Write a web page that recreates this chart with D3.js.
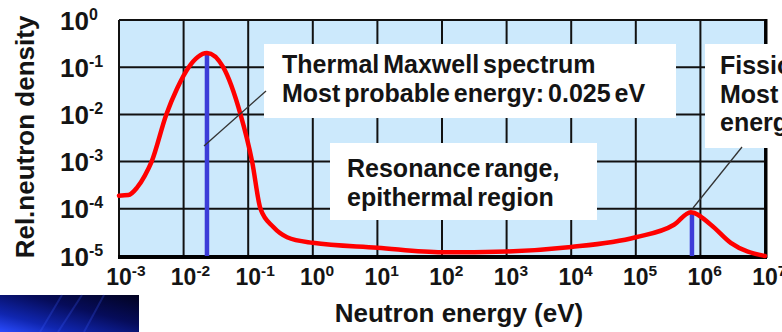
<!DOCTYPE html>
<html>
<head>
<meta charset="utf-8">
<script src="https://cdn.jsdelivr.net/npm/d3@7"></script>
<style>
  body { margin: 0; background: #fff; }
  svg { display: block; font-family: "Liberation Sans", Arial, sans-serif; font-weight: bold; }
</style>
</head>
<body>
<div id="graph"></div>
<script>
// spectrum (energy in eV, relative density)
var energy = [1e-3, 1.4e-3, 1.9e-3, 2.5e-3, 3.2e-3, 5.4e-3, 7.9e-3, 0.012, 0.0166, 0.023, 0.041, 0.076, 0.115, 0.155, 0.245, 0.4,
  1, 10, 100, 1e3, 1e4, 1e5, 3.9e5, 7.1e5, 1.45e6, 2.95e6, 1e7];
var density = [1.9e-4, 1.95e-4, 2.8e-4, 5e-4, 1e-3, 1e-2, 3.5e-2, 1e-1, 0.165, 0.2, 0.1, 1e-2, 1e-3, 1e-4, 4.1e-5, 2.5e-5,
  1.9e-5, 1.5e-5, 1.2e-5, 1.25e-5, 1.55e-5, 2.5e-5, 4.6e-5, 8.5e-5, 4.6e-5, 1.9e-5, 1e-5];

// most probable energies (blue markers)
var markerEnergy = [0.023, 7.4e5];
var markerTop = [0.19, 8.3e-5];

var xExponents = [-3, -2, -1, 0, 1, 2, 3, 4, 5, 6, 7];
var yExponents = [0, -1, -2, -3, -4, -5];

var notes = [
  { lines: ["Thermal Maxwell spectrum", "Most probable energy: 0.025 eV"] },
  { lines: ["Resonance range,", "epithermal region"] },
  { lines: ["Fission spectrum", "Most probable", "energy: 0.7 MeV"] }
];

var width = 782, height = 332;
var x = d3.scaleLog().domain([1e-3, 1e7]).range([119, 765]);
var y = d3.scaleLog().domain([1e-5, 1]).range([256, 20]);

var svg = d3.select("#graph").append("svg")
  .attr("width", width).attr("height", height);

// background image corner (bottom-left)
var defs = svg.append("defs");
var grad = defs.append("linearGradient").attr("id", "corner")
  .attr("x1", "0%").attr("y1", "100%").attr("x2", "100%").attr("y2", "0%");
grad.append("stop").attr("offset", "0%").attr("stop-color", "#2a4cff");
grad.append("stop").attr("offset", "25%").attr("stop-color", "#1026b0");
grad.append("stop").attr("offset", "60%").attr("stop-color", "#060c5a");
grad.append("stop").attr("offset", "100%").attr("stop-color", "#020320");
svg.append("rect").attr("x", 0).attr("y", 295).attr("width", 139).attr("height", 37)
  .attr("fill", "url(#corner)");
[[40, 332, 62, 295], [58, 332, 82, 295], [84, 332, 104, 295]].forEach(s => {
  svg.append("line").attr("x1", s[0]).attr("y1", s[1]).attr("x2", s[2]).attr("y2", s[3])
    .attr("stroke", "#3a5cff").attr("stroke-opacity", 0.25).attr("stroke-width", 2);
});

// plot area
svg.append("rect").attr("x", x(1e-3)).attr("y", y(1))
  .attr("width", x(1e7) - x(1e-3)).attr("height", y(1e-5) - y(1))
  .attr("fill", "#cce9fc");

var grid = svg.append("g").attr("stroke", "#111").attr("stroke-width", 2);
grid.selectAll("line.v").data(xExponents).join("line").attr("class", "v")
  .attr("x1", d => x(Math.pow(10, d))).attr("x2", d => x(Math.pow(10, d)))
  .attr("y1", y(1)).attr("y2", y(1e-5));
grid.selectAll("line.h").data(yExponents).join("line").attr("class", "h")
  .attr("y1", d => y(Math.pow(10, d))).attr("y2", d => y(Math.pow(10, d)))
  .attr("x1", x(1e-3)).attr("x2", x(1e7));
// heavier right and bottom frame
svg.append("line").attr("x1", x(1e-3) - 1).attr("x2", x(1e7) + 2)
  .attr("y1", y(1e-5) + 1).attr("y2", y(1e-5) + 1).attr("stroke", "#000").attr("stroke-width", 4);
svg.append("line").attr("x1", x(1e7) + 1).attr("x2", x(1e7) + 1)
  .attr("y1", y(1) - 1).attr("y2", y(1e-5) + 2).attr("stroke", "#000").attr("stroke-width", 3);

// blue markers
svg.selectAll("line.marker").data(markerEnergy).join("line").attr("class", "marker")
  .attr("x1", d => x(d)).attr("x2", d => x(d))
  .attr("y1", (d, i) => y(markerTop[i])).attr("y2", y(1e-5))
  .attr("stroke", "#3c3cd8").attr("stroke-width", 4.5);

// spectrum curve
var line = d3.line()
  .x((d, i) => x(energy[i]))
  .y((d, i) => y(density[i]))
  .curve(d3.curveMonotoneX);
svg.append("path").datum(energy)
  .attr("d", line)
  .attr("fill", "none").attr("stroke", "#ff0000").attr("stroke-width", 4.5)
  .attr("stroke-linejoin", "round").attr("stroke-linecap", "round");

// note boxes
var boxes = [
  { x: 264, y: 44, w: 412, h: 74, tx: 282, ty: 73 },
  { x: 330, y: 143, w: 267, h: 77, tx: 347, ty: 177 },
  { x: 705, y: 44, w: 90, h: 104, tx: 720, ty: 74 }
];
boxes.forEach((b, i) => {
  svg.append("rect").attr("x", b.x).attr("y", b.y).attr("width", b.w).attr("height", b.h)
    .attr("fill", "#fff");
  var t = svg.append("text").attr("x", b.tx).attr("y", b.ty)
    .attr("font-size", 25).attr("fill", "#141414").attr("word-spacing", -3);
  notes[i].lines.forEach((s, k) => {
    t.append("tspan").attr("x", b.tx).attr("dy", k ? 28.5 : 0).text(s);
  });
});

// leader lines
[[204, 146, 266, 91], [693, 208, 742, 147]].forEach(l => {
  svg.append("line").attr("x1", l[0]).attr("y1", l[1]).attr("x2", l[2]).attr("y2", l[3])
    .attr("stroke", "#333").attr("stroke-width", 1.3);
});

// tick labels
var xl = svg.append("g").attr("fill", "#141414");
xExponents.forEach(e => {
  var t = xl.append("text").attr("x", x(Math.pow(10, e)) - 12.8).attr("y", 285)
    .attr("font-size", 23);
  t.append("tspan").text("10");
  t.append("tspan").attr("dy", -9).attr("font-size", 15.5).text(String(e));
});
var yl = svg.append("g").attr("fill", "#141414");
yExponents.forEach(e => {
  var t = yl.append("text").attr("x", 60).attr("y", y(Math.pow(10, e)) + 9.5)
    .attr("font-size", 26);
  t.append("tspan").text("10");
  t.append("tspan").attr("dy", -10).attr("font-size", 16).text(String(e));
});

// axis titles
svg.append("text").attr("x", 459).attr("y", 322).attr("text-anchor", "middle")
  .attr("font-size", 26).attr("fill", "#141414").text("Neutron energy (eV)");
svg.append("text").attr("transform", "translate(34,137) rotate(-90)")
  .attr("text-anchor", "middle").attr("font-size", 26).attr("fill", "#141414")
  .text("Rel.neutron density");
</script>
</body>
</html>
